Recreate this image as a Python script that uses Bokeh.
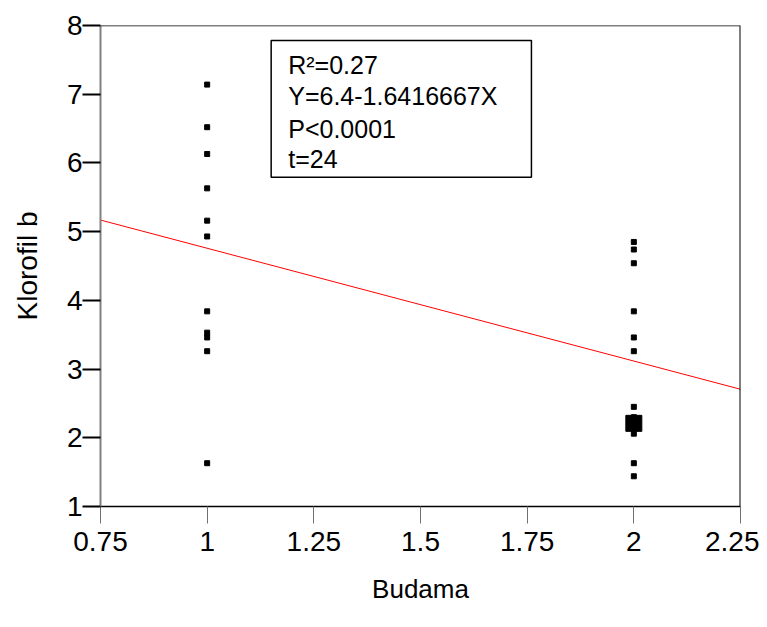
from bokeh.plotting import figure
from bokeh.models import (FixedTicker, CustomJSTickFormatter, Span, Label,
                          BoxAnnotation)
from bokeh.embed import file_html
from bokeh.resources import INLINE

# ---- data ----
budama_1 = [1] * 11
klorofil_1 = [7.14, 6.52, 6.13, 5.63, 5.16, 4.93, 3.84, 3.53, 3.46, 3.26, 1.63]
budama_2 = [2] * 11
klorofil_2 = [4.85, 4.74, 4.54, 3.84, 3.46, 3.26, 2.45, 2.30, 2.06, 1.63, 1.44]
cluster_x = [2]
cluster_y = [2.21]

fit_intercept = 6.4
fit_slope = -1.6416667
fit_x = [0.75, 2.25]
fit_y = [fit_intercept + fit_slope * v for v in fit_x]

x_ticks = [0.75, 1, 1.25, 1.5, 1.75, 2, 2.25]
y_ticks = [1, 2, 3, 4, 5, 6, 7, 8]

stats_lines = ["R\u00b2=0.27", "Y=6.4-1.6416667X", "P<0.0001", "t=24"]

FONT = "Liberation Sans"

p = figure(width=759, height=619, x_range=(0.75, 2.25), y_range=(1, 8),
           output_backend="svg", toolbar_location=None,
           min_border_left=100, min_border_right=19,
           min_border_top=25, min_border_bottom=113)
p.outline_line_color = None
p.xgrid.grid_line_color = None
p.ygrid.grid_line_color = None
p.background_fill_color = "white"

# axes
p.xaxis.ticker = FixedTicker(ticks=x_ticks)
p.xaxis.formatter = CustomJSTickFormatter(code="return String(tick);")
p.yaxis.ticker = FixedTicker(ticks=y_ticks)

p.xaxis.axis_label = "Budama"
p.yaxis.axis_label = "Klorofil b"
for ax in (p.xaxis, p.yaxis):
    ax.axis_label_text_font = FONT
    ax.axis_label_text_font_style = "normal"
    ax.axis_label_text_color = "black"
    ax.major_label_text_font = FONT
    ax.major_label_text_font_size = "28px"
    ax.major_label_text_color = "black"
    ax.minor_tick_line_color = None
    ax.major_tick_in = 0
p.xaxis.axis_label_text_font_size = "26px"
p.yaxis.axis_label_text_font_size = "28px"

p.xaxis.axis_line_color = "black"
p.xaxis.axis_line_width = 1.5
p.xaxis.major_tick_line_color = "#707070"
p.xaxis.major_tick_line_width = 1
p.xaxis.major_tick_out = 17
p.xaxis.major_label_standoff = 8
p.xaxis.axis_label_standoff = 20

p.yaxis.axis_line_color = "#808080"
p.yaxis.axis_line_width = 2
p.yaxis.major_tick_line_color = "black"
p.yaxis.major_tick_line_width = 2
p.yaxis.major_tick_out = 18
p.yaxis.major_label_standoff = 0
p.yaxis.axis_label_standoff = 21

# top and right frame lines
p.add_layout(Span(location=8, dimension="width", line_color="black",
                  line_width=1.5, line_alpha=1))
p.add_layout(Span(location=2.25, dimension="height", line_color="black",
                  line_width=2, line_alpha=1))

# fit line
p.line(fit_x, fit_y, line_color="red", line_width=1)

# points
p.scatter(budama_1, klorofil_1, marker="square", size=5, color="black")
p.scatter(budama_2, klorofil_2, marker="square", size=5, color="black")
p.scatter(cluster_x, cluster_y, marker="square", size=16, color="black")

# stats box
p.add_layout(BoxAnnotation(left=1.15, right=1.76, top=7.78, bottom=5.79,
                           fill_color=None, fill_alpha=0,
                           line_color="black", line_alpha=1, line_width=1.5))
line_y = [7.42, 6.97, 6.49, 6.06]
for txt, yy in zip(stats_lines, line_y):
    p.add_layout(Label(x=1.19, y=yy, text=txt, text_font=FONT,
                       text_font_size="25px", text_baseline="middle",
                       text_color="black"))

open("out.html", "w").write(file_html(p, INLINE))
